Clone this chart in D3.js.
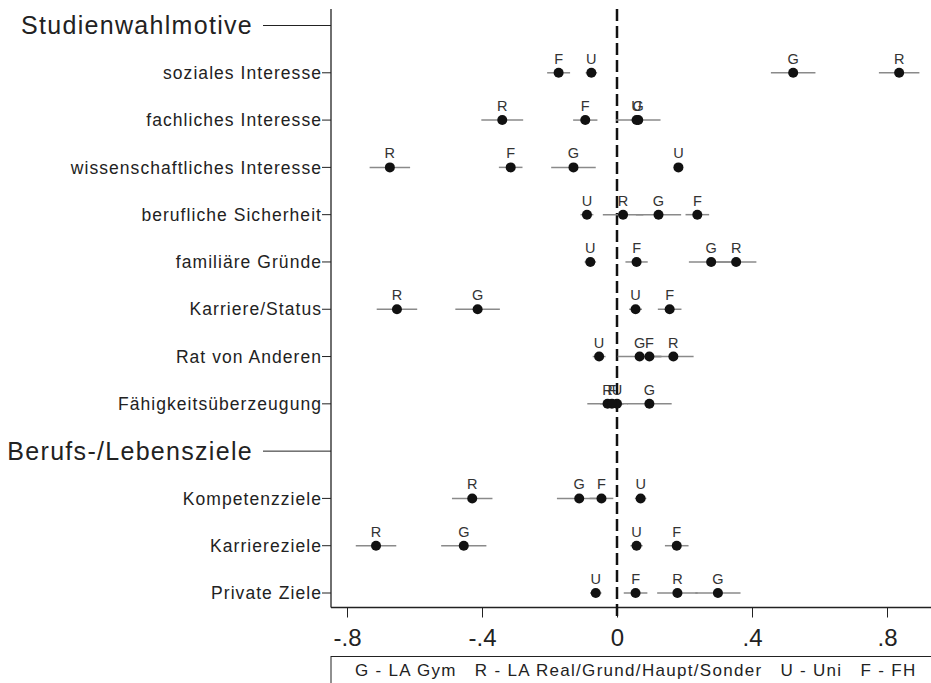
<!DOCTYPE html>
<html><head><meta charset="utf-8">
<script src="https://cdn.jsdelivr.net/npm/d3@7"></script>
<style>body{margin:0;background:#fff}svg{display:block}text{font-family:"Liberation Sans",Arial,sans-serif}</style>
</head><body><svg id="c" width="931" height="683"></svg>
<script>
// Rows (top to bottom); headings marked in headingRows
const rows = ["Studienwahlmotive","soziales Interesse","fachliches Interesse","wissenschaftliches Interesse",
  "berufliche Sicherheit","familiäre Gründe","Karriere/Status","Rat von Anderen","Fähigkeitsüberzeugung",
  "Berufs-/Lebensziele","Kompetenzziele","Karriereziele","Private Ziele"];
const headingRows = ["Studienwahlmotive","Berufs-/Lebensziele"];
const items = ["soziales Interesse","fachliches Interesse","wissenschaftliches Interesse","berufliche Sicherheit",
  "familiäre Gründe","Karriere/Status","Rat von Anderen","Fähigkeitsüberzeugung","Kompetenzziele","Karriereziele","Private Ziele"];
const seriesKeys = ["G","R","U","F"];
// point estimates per series, in item order
const valG = [0.522, 0.063, -0.129, 0.123, 0.279, -0.413, 0.067, 0.096, -0.112, -0.454, 0.299];
const valR = [0.836, -0.340, -0.673, 0.018, 0.353, -0.652, 0.167, -0.028, -0.429, -0.714, 0.179];
const valU = [-0.076, 0.058, 0.182, -0.089, -0.079, 0.055, -0.053, 0.000, 0.070, 0.058, -0.063];
const valF = [-0.173, -0.094, -0.315, 0.238, 0.058, 0.156, 0.096, -0.015, -0.046, 0.177, 0.055];
// confidence-interval half widths
const ciG = [0.066, 0.066, 0.066, 0.067, 0.066, 0.066, 0.065, 0.066, 0.066, 0.067, 0.067];
const ciR = [0.060, 0.062, 0.060, 0.060, 0.060, 0.060, 0.060, 0.060, 0.060, 0.060, 0.060];
const ciU = [0.017, 0.018, 0.014, 0.019, 0.017, 0.019, 0.019, 0.018, 0.017, 0.018, 0.017];
const ciF = [0.034, 0.036, 0.035, 0.035, 0.033, 0.035, 0.035, 0.035, 0.035, 0.035, 0.035];
const tickValues = [-0.8, -0.4, 0, 0.4, 0.8];
const tickLabels = ["-.8", "-.4", "0", ".4", ".8"];
const legendText = "G - LA Gym   R - LA Real/Grund/Haupt/Sonder   U - Uni   F - FH";

const values = {G: valG, R: valR, U: valU, F: valF};
const cis = {G: ciG, R: ciR, U: ciU, F: ciF};

const svg = d3.select("#c");
const x = d3.scaleLinear().domain([-0.8, 0.8]).range([347, 887]);
const y = d3.scalePoint().domain(rows).range([25.5, 593]);
const axX = 331, axBottom = 607.5, axTop = 9;

// frame lines
svg.append("line").attr("x1", axX).attr("x2", axX).attr("y1", axTop).attr("y2", axBottom)
  .attr("stroke", "#222").attr("stroke-width", 1.3);
svg.append("line").attr("x1", axX).attr("x2", 931).attr("y1", axBottom).attr("y2", axBottom)
  .attr("stroke", "#222").attr("stroke-width", 1.3);

// y axis rows
const rowG = svg.append("g");
rows.forEach(r => {
  const isH = headingRows.includes(r);
  const len = isH ? 68 : 9;
  rowG.append("line").attr("x1", axX - len).attr("x2", axX).attr("y1", y(r)).attr("y2", y(r))
    .attr("stroke", "#222").attr("stroke-width", 1);
  rowG.append("text").attr("x", axX - len - (isH ? 10 : 0)).attr("y", y(r)).attr("dy", "0.35em")
    .attr("text-anchor", "end").attr("font-size", isH ? 25 : 17.5)
    .attr("letter-spacing", isH ? 1.3 : 1.05).attr("fill", "#222").text(r);
});

// x axis
const xAxis = d3.axisBottom(x).tickValues(tickValues).tickSize(10)
  .tickFormat((d, i) => tickLabels[i]);
const gx = svg.append("g").attr("transform", `translate(0,${axBottom})`).call(xAxis);
gx.select(".domain").remove();
gx.selectAll(".tick line").attr("stroke", "#222").attr("stroke-width", 1);
gx.selectAll(".tick text").attr("font-size", 24).attr("fill", "#222").attr("dy", "1.05em")
  .style("font-family", '"Liberation Sans",Arial,sans-serif');

// zero reference line
svg.append("line").attr("x1", x(0)).attr("x2", x(0)).attr("y1", axTop).attr("y2", axBottom + 10)
  .attr("stroke", "#111").attr("stroke-width", 2.5).attr("stroke-dasharray", "12,5");

// points
const marks = svg.append("g");
seriesKeys.forEach(k => {
  items.forEach((it, i) => {
    const v = values[k][i], c = cis[k][i], yy = y(it);
    marks.append("line").attr("x1", x(v - c)).attr("x2", x(v + c)).attr("y1", yy).attr("y2", yy)
      .attr("stroke", "#8a8a8a").attr("stroke-width", 1.5);
  });
});
seriesKeys.forEach(k => {
  items.forEach((it, i) => {
    const v = values[k][i], yy = y(it);
    marks.append("circle").attr("cx", x(v)).attr("cy", yy).attr("r", 5).attr("fill", "#111");
    marks.append("text").attr("x", x(v)).attr("y", yy - 9).attr("text-anchor", "middle")
      .attr("font-size", 14.5).attr("fill", "#333").text(k);
  });
});

// legend
svg.append("rect").attr("x", axX).attr("y", 656.5).attr("width", 640).attr("height", 40)
  .attr("fill", "none").attr("stroke", "#222").attr("stroke-width", 1);
svg.append("text").attr("x", 355).attr("y", 676).attr("font-size", 17).attr("letter-spacing", 1.3)
  .attr("fill", "#222").attr("xml:space", "preserve").style("white-space", "pre").text(legendText);
</script></body></html>
